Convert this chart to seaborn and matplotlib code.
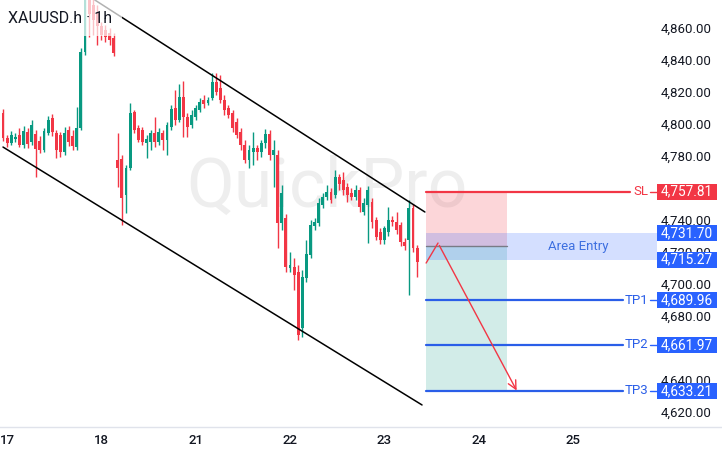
import numpy as np
import pandas as pd
import matplotlib
matplotlib.use("Agg")
import matplotlib.pyplot as plt
import seaborn as sns
from matplotlib.patches import Rectangle

# ---------------- data ----------------
symbol_label = "XAUUSD.h · 1h"
day_labels = ["17", "18", "21", "22", "23", "24", "25"]
day_start_bar = [1, 24, 47, 70, 93, 116, 139]
# 4,760 and 4,660 sit fully under the SL / TP2 price boxes in the reference
price_ticks = [4620, 4640, 4680, 4700, 4720, 4740, 4780, 4800, 4820, 4840, 4860]

opens = [4791.9, 4806.9, 4791.2, 4788.1, 4790.6, 4793.1, 4786.9, 4795.0, 4788.8, 4793.8,
         4789.4, 4783.8, 4794.4, 4803.8, 4794.4, 4793.1, 4782.5, 4796.3, 4792.5, 4785.6,
         4797.5, 4845.0, 4880.6, 4874.4, 4870.0, 4861.3, 4858.8, 4856.9, 4853.8, 4777.5,
         4778.1, 4755.6, 4772.5, 4807.5, 4797.5, 4796.3, 4788.1, 4788.8, 4794.4, 4788.8,
         4794.4, 4790.0, 4798.1, 4810.0, 4802.5, 4816.9, 4804.4, 4799.4, 4804.4, 4808.8,
         4815.0, 4813.1, 4816.3, 4826.3, 4822.5, 4815.0, 4810.0, 4806.9, 4801.3, 4795.0,
         4786.9, 4777.5, 4782.5, 4785.0, 4782.5, 4788.1, 4793.8, 4780.6, 4780.6, 4738.1,
         4741.3, 4710.0, 4710.6, 4707.5, 4672.5, 4703.8, 4718.1, 4736.3, 4738.1, 4749.4,
         4754.4, 4757.5, 4755.6, 4766.9, 4765.0, 4760.6, 4756.9, 4754.4, 4758.8, 4745.0,
         4749.4, 4751.3, 4740.0, 4732.5, 4727.5, 4732.5, 4740.0, 4738.8, 4736.9, 4726.3,
         4727.5, 4747.5, 4722.5]
closes = [4805.6, 4791.2, 4788.1, 4793.1, 4791.9, 4786.9, 4795.6, 4787.5, 4799.4, 4784.4,
          4783.8, 4795.6, 4802.5, 4795.0, 4783.8, 4782.5, 4794.4, 4788.8, 4786.3, 4797.5,
          4845.0, 4880.6, 4868.8, 4865.0, 4861.3, 4855.6, 4854.4, 4852.5, 4844.4, 4772.5,
          4753.8, 4772.5, 4806.9, 4796.3, 4790.0, 4788.8, 4790.6, 4794.4, 4788.8, 4795.0,
          4790.0, 4799.4, 4809.4, 4802.5, 4816.9, 4804.4, 4798.1, 4805.6, 4810.0, 4813.8,
          4812.5, 4815.0, 4826.3, 4820.0, 4815.0, 4808.8, 4805.6, 4797.5, 4793.1, 4786.9,
          4777.5, 4783.8, 4785.0, 4782.5, 4788.1, 4793.8, 4780.6, 4783.8, 4738.1, 4756.9,
          4710.6, 4711.9, 4705.6, 4668.1, 4704.4, 4718.8, 4736.9, 4738.8, 4750.6, 4754.4,
          4757.5, 4752.5, 4766.9, 4762.5, 4758.8, 4755.6, 4754.4, 4758.8, 4748.1, 4750.6,
          4758.8, 4738.8, 4729.4, 4727.5, 4735.0, 4740.0, 4738.8, 4733.8, 4726.3, 4723.8,
          4747.5, 4722.5, 4713.8]
highs = [4807.5, 4809.4, 4793.1, 4795.6, 4794.4, 4797.5, 4798.8, 4797.5, 4802.5, 4796.3,
         4792.5, 4797.5, 4805.0, 4806.3, 4796.3, 4795.0, 4798.1, 4798.8, 4796.3, 4810.6,
         4847.5, 4890.0, 4886.9, 4878.8, 4874.4, 4863.8, 4861.9, 4860.0, 4856.9, 4794.4,
         4780.6, 4774.4, 4813.1, 4808.8, 4799.4, 4798.1, 4793.1, 4796.3, 4804.4, 4797.5,
         4796.3, 4801.3, 4811.9, 4821.3, 4825.0, 4826.9, 4806.9, 4808.8, 4811.9, 4816.3,
         4818.1, 4816.9, 4831.9, 4831.9, 4830.6, 4818.1, 4811.9, 4808.8, 4803.8, 4797.5,
         4790.0, 4786.9, 4795.0, 4786.9, 4790.0, 4796.9, 4796.3, 4790.0, 4783.8, 4761.9,
         4743.8, 4720.0, 4716.3, 4711.9, 4708.8, 4727.5, 4740.0, 4741.3, 4753.8, 4756.9,
         4761.9, 4760.0, 4771.3, 4768.8, 4770.0, 4763.1, 4760.0, 4761.9, 4760.6, 4753.8,
         4761.3, 4753.8, 4741.9, 4735.0, 4736.3, 4748.1, 4742.5, 4745.0, 4738.8, 4728.8,
         4752.5, 4750.0, 4724.4]
lows = [4790.0, 4789.4, 4785.6, 4786.9, 4788.8, 4785.6, 4785.0, 4785.0, 4786.9, 4766.9,
        4781.9, 4782.5, 4793.1, 4792.5, 4778.8, 4779.4, 4780.6, 4786.3, 4783.8, 4783.8,
        4796.3, 4843.1, 4854.4, 4855.6, 4849.4, 4852.5, 4851.3, 4849.4, 4842.5, 4760.6,
        4736.9, 4744.4, 4771.3, 4794.4, 4788.8, 4786.9, 4778.8, 4783.8, 4785.6, 4786.9,
        4783.8, 4780.6, 4796.3, 4799.4, 4801.3, 4791.9, 4791.9, 4797.5, 4802.5, 4807.5,
        4810.0, 4811.9, 4815.0, 4818.1, 4813.1, 4805.6, 4803.8, 4795.0, 4791.3, 4783.8,
        4775.6, 4772.5, 4774.4, 4777.5, 4779.4, 4785.0, 4777.5, 4760.6, 4722.5, 4733.8,
        4707.5, 4707.5, 4696.3, 4665.0, 4666.9, 4701.3, 4716.3, 4733.8, 4736.3, 4747.5,
        4752.5, 4750.6, 4753.8, 4758.8, 4755.6, 4751.3, 4752.5, 4752.5, 4745.0, 4743.1,
        4725.6, 4735.0, 4727.5, 4725.0, 4725.0, 4730.0, 4736.3, 4731.3, 4723.8, 4721.3,
        4693.1, 4720.0, 4704.4]
bar_pos = list(range(-1, len(opens) - 1))

# drawn channel (anchor bar index, price)
channel_upper_x = [22.4, 102.9]
channel_upper_y = [4877.5, 4745.0]
channel_lower_x = [0.0, 102.2]
channel_lower_y = [4785.6, 4624.4]

# trade setup levels
sl_price = 4757.81
entry_price = 4723.5
area_top = 4731.70
area_bottom = 4715.27
tp_names = ["TP1", "TP2", "TP3"]
tp_prices = [4689.96, 4661.97, 4633.21]
path_x = [103.2, 106.1, 125.6]
path_y = [4713.1, 4725.6, 4631.9]

# ---------------- style ----------------
sns.set_theme(style="white")
plt.rcParams["font.family"] = ["Roboto", "DejaVu Sans"]

GREEN = "#089981"
RED = "#f23645"
BLUE = "#2962ff"
TXT = "#131722"

W, H = 722, 455
fig = plt.figure(figsize=(W / 100, H / 100), dpi=100)
fig.patch.set_facecolor("white")
ax_bottom = 427
ax = fig.add_axes([0, 1 - ax_bottom / H, 1, ax_bottom / H])
ax.set_facecolor("white")

step = 4.1          # px per bar
x0 = 3              # px of bar 0
ppu = 1.6           # px per price unit
top_price = 4877.5
ax.set_xlim(-x0 / step, (W - x0) / step)
ax.set_ylim(top_price - ax_bottom / ppu, top_price)


def px2i(px):
    return (px - x0) / step


def dpx2p(dpx):
    return dpx / ppu


df = pd.DataFrame({"pos": bar_pos, "open": opens, "high": highs, "low": lows, "close": closes})
df["up"] = df["close"] >= df["open"]
df["color"] = np.where(df["up"], GREEN, RED)
body_low = df[["open", "close"]].min(axis=1)
body_h = (df["close"] - df["open"]).abs().clip(lower=0.7)

# watermark
ax.text(px2i(327), top_price - dpx2p(207), "QuickPro", fontsize=50, color="#eeeeee",
        ha="center", va="baseline", zorder=0.5)

# trade zones
zx0, zx1 = px2i(426), px2i(507)
ax.add_patch(Rectangle((zx0, entry_price), zx1 - zx0, sl_price - entry_price,
                       facecolor=RED, alpha=0.2, lw=0, zorder=1))
ax.add_patch(Rectangle((zx0, tp_prices[-1]), zx1 - zx0, entry_price - tp_prices[-1],
                       facecolor=GREEN, alpha=0.18, lw=0, zorder=1))
ax.add_patch(Rectangle((zx0, area_bottom), px2i(657) - zx0, area_top - area_bottom,
                       facecolor=BLUE, alpha=0.2, lw=0, zorder=1.1))
ax.plot([zx0, zx1], [entry_price, entry_price], color="#787b86", lw=1, zorder=1.2)
ax.text(px2i(578), (area_top + area_bottom) / 2, "Area Entry", color="#3d6fe0",
        fontsize=9.5, ha="center", va="center", zorder=5)

# candles
ax.vlines(df["pos"], df["low"], df["high"], colors=df["color"], lw=1.0, zorder=2)
ax.bar(df["pos"], body_h, bottom=body_low, width=0.72, color=df["color"], lw=0, zorder=3)

# channel lines
sns.lineplot(x=channel_upper_x, y=channel_upper_y, ax=ax, color="black", lw=1.1, zorder=4)
sns.lineplot(x=channel_lower_x, y=channel_lower_y, ax=ax, color="black", lw=1.1, zorder=4)

# SL line
ax.plot([zx0, px2i(630)], [sl_price, sl_price], color=RED, lw=1.6, zorder=4)
ax.text(px2i(648), sl_price, "SL", color=RED, fontsize=9.5, ha="right", va="center", zorder=5)
# TP lines
for name, p in zip(tp_names, tp_prices):
    ax.plot([zx0, px2i(623)], [p, p], color="#2a5ee8", lw=1.6, zorder=4)
    ax.text(px2i(648), p, name, color="#2a5ee8", fontsize=9.5, ha="right", va="center", zorder=5)

# connector dashes and price boxes
box_specs = [(sl_price, RED, True)] + [(area_top, BLUE, False), (area_bottom, BLUE, False)] + \
            [(p, BLUE, True) for p in tp_prices]
bh = dpx2p(16)
for p, col, dash in box_specs:
    if dash:
        ax.plot([px2i(650), px2i(657)], [p, p], color=col, lw=1.0, zorder=8)
    ax.add_patch(Rectangle((px2i(657), p - bh / 2), px2i(717) - px2i(657), bh,
                           facecolor=col, lw=0, zorder=8))
    ax.text(px2i(687), p, f"{p:,.2f}", color="white", fontsize=9.8, ha="center",
            va="center", zorder=9)

# arrow path
ax.plot(path_x[:2], path_y[:2], color=RED, lw=1.0, zorder=5)
ax.annotate("", xy=(path_x[2], path_y[2]), xytext=(path_x[1], path_y[1]),
            arrowprops=dict(arrowstyle="->,head_length=0.5,head_width=0.25", color=RED, lw=1.0),
            zorder=5)

# legend fade box + symbol
ax.add_patch(Rectangle((0, 1 - 36 / ax_bottom), 122 / W, 36 / ax_bottom, transform=ax.transAxes,
                       facecolor="white", alpha=0.7, lw=0, zorder=6))
ax.text(8 / W, 1 - 23 / ax_bottom, symbol_label, transform=ax.transAxes, fontsize=11.5,
        color=TXT, ha="left", va="baseline", zorder=7)

# axes / ticks
for s in ["top", "left", "right"]:
    ax.spines[s].set_visible(False)
ax.spines["bottom"].set_color("#e0e3eb")
ax.spines["bottom"].set_linewidth(1)
ax.set_xticks(day_start_bar)
ax.set_xticklabels(day_labels)
ax.tick_params(axis="x", length=0, pad=5, labelsize=9.5, labelcolor=TXT)
for lab in ax.get_xticklabels():
    lab.set_fontweight("medium")
ax.yaxis.tick_right()
ax.set_yticks(price_ticks)
ax.set_yticklabels([f"{v:,.2f}" for v in price_ticks])
ax.tick_params(axis="y", length=0, pad=-7.5, labelsize=9.5, labelcolor=TXT)
for lab in ax.get_yticklabels():
    lab.set_horizontalalignment("right")
ax.set_xlabel("")
ax.set_ylabel("")
ax.grid(False)

fig.savefig("out.png", dpi=100)
